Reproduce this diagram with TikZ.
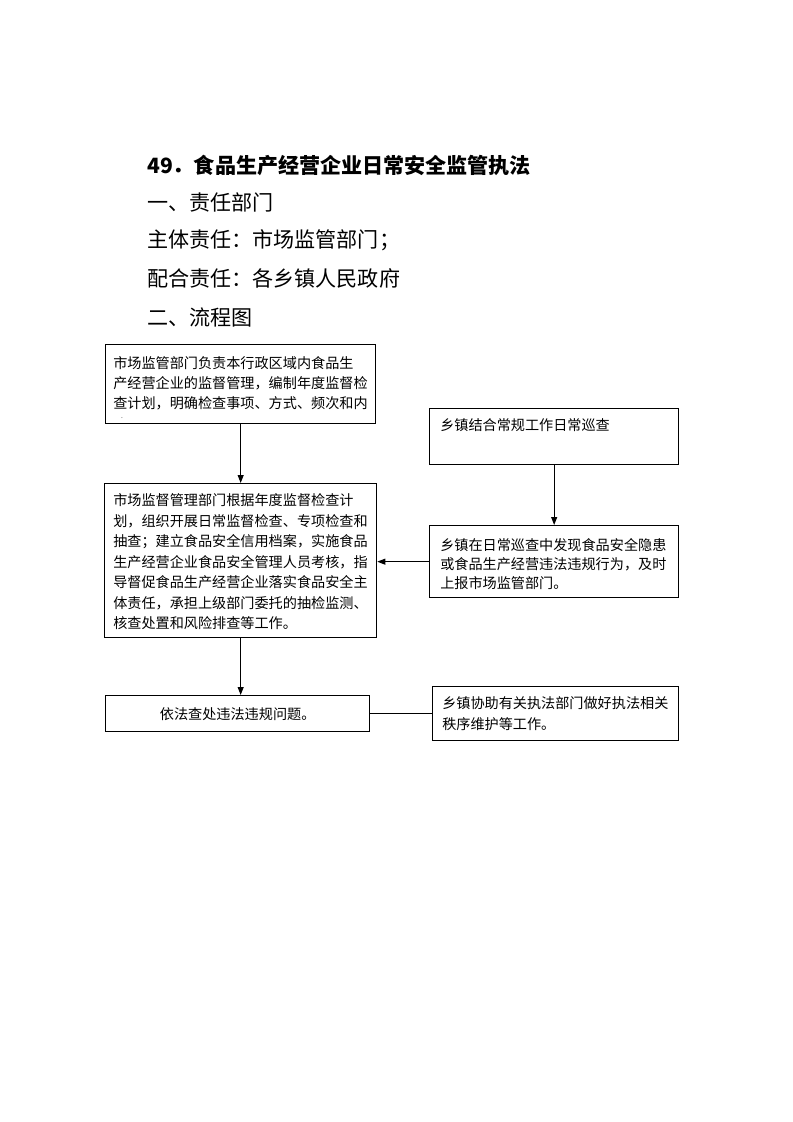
\documentclass[tikz,border=0pt]{standalone}
\usepackage{fontspec}
\setmainfont{Noto Sans CJK SC}
\usetikzlibrary{arrows.meta}

% one pixel of the page
\newcommand{\pxu}{0.75pt}

\begin{document}
\begin{tikzpicture}[x=0.75pt, y=-0.75pt,
  frame/.style={draw, line width=1pt, inner sep=0pt, anchor=north west},
  boxtext/.style={anchor=base west, inner sep=0pt, align=left, font=\fontsize{10.6}{15}\selectfont},
  head/.style={anchor=west, inner sep=0pt, font=\fontsize{15.8}{18}\selectfont},
  flow/.style={line width=0.8pt, -{Triangle[length=6pt, width=4.5pt]}},
  link/.style={line width=0.8pt}]

  \useasboundingbox (0,0) rectangle (793,1122);

  % Headings
  \node[head] (title) at (147,165) {\bfseries 49．食品生产经营企业日常安全监管执法};
  \node[head] (dept) at (147,202) {一、责任部门};
  \node[head] (main) at (147,240) {主体责任：市场监管部门；};
  \node[head] (help) at (147,278) {配合责任：各乡镇人民政府};
  \node[head] (chart) at (147,317) {二、流程图};

  % Boxes (text nodes sit on the baseline of their last line)
  % plan (left top)
  \node[frame, minimum width=270*\pxu, minimum height=79*\pxu] (plan) at (105,344) {};
  \node[boxtext] (plan-t) at (113,408.6) {市场监管部门负责本行政区域内食品生\\产经营企业的监督管理，编制年度监督检\\查计划，明确检查事项、方式、频次和内};
  \node[inner sep=0pt, font=\tiny] (plan-d) at (122,418) {.};

  % check (left middle)
  \node[frame, minimum width=272*\pxu, minimum height=154*\pxu] (check) at (104,483) {};
  \node[boxtext, font=\fontsize{10.6}{15.4}\selectfont] (check-t) at (113,628.8)
    {市场监督管理部门根据年度监督检查计\\划，组织开展日常监督检查、专项检查和\\抽查；建立食品安全信用档案，实施食品\\生产经营企业食品安全管理人员考核，指\\导督促食品生产经营企业落实食品安全主\\体责任，承担上级部门委托的抽检监测、\\核查处置和风险排查等工作。};

  % patrol (right top)
  \node[frame, minimum width=249*\pxu, minimum height=56*\pxu] (patrol) at (429,408) {};
  \node[boxtext] (patrol-t) at (440,430.6) {乡镇结合常规工作日常巡查};

  % report (right middle)
  \node[frame, minimum width=249*\pxu, minimum height=72*\pxu] (report) at (429,525) {};
  \node[boxtext, font=\fontsize{10.6}{14.3}\selectfont] (report-t) at (440,588.7)
    {乡镇在日常巡查中发现食品安全隐患\\或食品生产经营违法违规行为，及时\\上报市场监管部门。};

  % punish (left bottom)
  \node[frame, minimum width=264*\pxu, minimum height=36*\pxu] (punish) at (105,695) {};
  \node[inner sep=0pt, font=\fontsize{10.6}{15}\selectfont] (punish-t) at (punish.center) {依法查处违法违规问题。};

  % assist (right bottom)
  \node[frame, minimum width=246*\pxu, minimum height=54*\pxu] (assist) at (432,686) {};
  \node[boxtext, font=\fontsize{10.6}{15.8}\selectfont] (assist-t) at (442,729.7)
    {乡镇协助有关执法部门做好执法相关\\秩序维护等工作。};

  % Connectors
  \draw[flow] (plan.south) -- (plan.south |- check.north);
  \draw[flow] (patrol.south) -- (patrol.south |- report.north);
  \draw[flow] (report.west) -- (report.west -| check.east);
  \draw[flow] (check.south) -- (check.south |- punish.north);
  \draw[link] (punish.east) -- (assist.west);

\end{tikzpicture}
\end{document}
